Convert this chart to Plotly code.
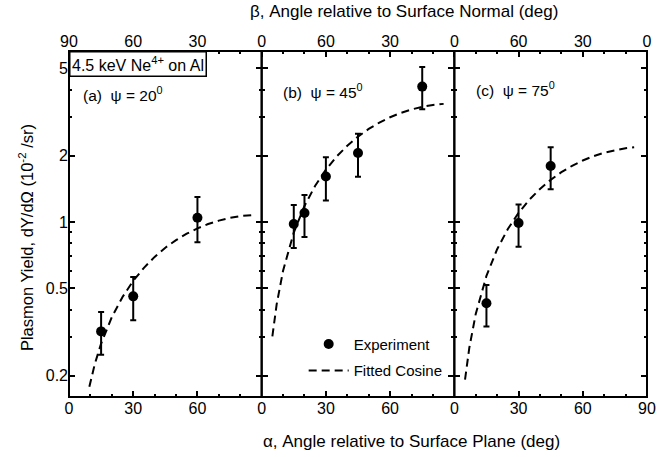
import plotly.graph_objects as go

# ---- data ----
alpha_a = [15, 30, 60]
yield_a = [0.318, 0.459, 1.045]
hi_a = [0.39, 0.562, 1.30]
lo_a = [0.249, 0.357, 0.81]

alpha_b = [15, 20, 30, 45, 75]
yield_b = [0.98, 1.10, 1.61, 2.06, 4.13]
hi_b = [1.195, 1.327, 1.97, 2.52, 5.07]
lo_b = [0.762, 0.855, 1.254, 1.607, 3.26]

alpha_c = [15, 30, 45]
yield_c = [0.427, 0.99, 1.797]
hi_c = [0.517, 1.20, 2.19]
lo_c = [0.335, 0.772, 1.41]

fit_alpha_a = [9.5, 12, 15, 20, 25, 30, 35, 40, 45, 50, 55, 60, 65, 70, 75, 80, 87]
fit_a = [0.178, 0.225, 0.280, 0.369, 0.456, 0.540, 0.619, 0.694, 0.764, 0.827,
         0.885, 0.935, 0.979, 1.015, 1.043, 1.064, 1.078]

fit_alpha_b = [5, 7, 10, 15, 20, 25, 30, 35, 40, 45, 50, 55, 60, 65, 70, 75, 80, 85]
fit_b = [0.302, 0.422, 0.601, 0.896, 1.183, 1.462, 1.730, 1.985, 2.224, 2.447,
         2.651, 2.834, 2.996, 3.136, 3.251, 3.342, 3.407, 3.447]

fit_alpha_c = [5, 7, 10, 15, 20, 25, 30, 35, 40, 45, 50, 55, 60, 65, 70, 75, 80, 84]
fit_c = [0.192, 0.268, 0.382, 0.569, 0.752, 0.930, 1.100, 1.262, 1.414, 1.556,
         1.685, 1.802, 1.905, 1.994, 2.067, 2.125, 2.167, 2.188]

panel_labels = ["(a)\u00a0\u00a0\u03c8 = 20<sup>0</sup>",
                "(b)\u00a0\u00a0\u03c8 = 45<sup>0</sup>",
                "(c)\u00a0\u00a0\u03c8 = 75<sup>0</sup>"]

y_tickvals = [0.2, 0.5, 1, 2, 5]
y_ticktext = ["0.2", "0.5", "1", "2", "5"]
y_minor = [0.3, 0.4, 0.6, 0.7, 0.8, 0.9, 3, 4]

bottom_ticks = [[0, 30, 60], [0, 30, 60], [0, 30, 60, 90]]
# top (beta) axis runs continuously across the three panels: 0..270 in alpha units
top_tickvals = [0, 30, 60, 90, 120, 150, 180, 210, 240, 270]
top_ticktext = ["90", "60", "30", "0", "60", "30", "0", "60", "30", "0"]

# ---- figure ----
FONT = "Liberation Sans, Arial, sans-serif"
fig = go.Figure()

panels = [
    (alpha_a, yield_a, hi_a, lo_a, fit_alpha_a, fit_a),
    (alpha_b, yield_b, hi_b, lo_b, fit_alpha_b, fit_b),
    (alpha_c, yield_c, hi_c, lo_c, fit_alpha_c, fit_c),
]

for i, (ax, yv, hi, lo, fx, fy) in enumerate(panels):
    xr = "x" if i == 0 else f"x{i+1}"
    yr = "y" if i == 0 else f"y{i+1}"
    fig.add_trace(go.Scatter(
        x=fx, y=fy, mode="lines", xaxis=xr, yaxis=yr,
        line=dict(color="black", width=2, dash="8px,5px"),
        name="Fitted Cosine", legendgroup="fit", showlegend=(i == 1),
        legendrank=2))
    fig.add_trace(go.Scatter(
        x=ax, y=yv, mode="markers", xaxis=xr, yaxis=yr,
        marker=dict(color="black", size=10),
        error_y=dict(type="data", symmetric=False,
                     array=[h - v for h, v in zip(hi, yv)],
                     arrayminus=[v - l for l, v in zip(lo, yv)],
                     color="black", thickness=2, width=3),
        name="Experiment", legendgroup="exp", showlegend=(i == 1),
        legendrank=1))

# invisible trace registering the continuous top (beta) axis
fig.add_trace(go.Scatter(x=top_tickvals, y=[1] * len(top_tickvals), mode="markers",
                         xaxis="x4", yaxis="y4", marker=dict(opacity=0),
                         showlegend=False, hoverinfo="skip"))

domains = [[0, 1/3], [1/3, 2/3], [2/3, 1]]
ylog = [-0.796, 0.778]
TICK = dict(ticks="inside", tickwidth=1.5, tickcolor="black")

layout = dict(
    width=672, height=457,
    margin=dict(l=69, r=25, t=51, b=60),
    paper_bgcolor="white", plot_bgcolor="rgba(0,0,0,0)",
    font=dict(family=FONT, size=15, color="black"),
    showlegend=True,
    legend=dict(x=0.406, y=0.2, xanchor="left", yanchor="top",
                bgcolor="rgba(0,0,0,0)", font=dict(size=15),
                tracegroupgap=4, itemwidth=40),
)

shapes = []
for i in range(3):
    xk = "xaxis" if i == 0 else f"xaxis{i+1}"
    yk = "yaxis" if i == 0 else f"yaxis{i+1}"
    xa = "x" if i == 0 else f"x{i+1}"
    ya = "y" if i == 0 else f"y{i+1}"
    layout[xk] = dict(
        domain=domains[i], range=[0, 90], anchor=ya, showline=False,
        ticklen=6, tickmode="array", tickvals=bottom_ticks[i],
        ticktext=[str(v) for v in bottom_ticks[i]],
        showgrid=False, zeroline=False,
        minor=dict(ticklen=3, dtick=10, tick0=0, showgrid=False, **TICK),
        tickfont=dict(size=16), fixedrange=True, **TICK)
    layout[yk] = dict(
        domain=[0, 1], type="log", range=ylog, anchor=xa,
        showline=False, mirror="ticks",
        ticklen=6, tickmode="array", tickvals=y_tickvals, ticktext=y_ticktext,
        showticklabels=(i == 0), showgrid=False, zeroline=False,
        minor=dict(ticklen=3, tickvals=y_minor, showgrid=False, **TICK),
        tickfont=dict(size=16), fixedrange=True, **TICK)
    shapes.append(dict(type="rect", xref=f"{xa} domain", yref=f"{ya} domain",
                       x0=0, x1=1, y0=0, y1=1, line=dict(color="black", width=2),
                       layer="above"))

layout["xaxis4"] = dict(
    domain=[0, 1], range=[0, 270], anchor="y4", side="top", showline=False,
    ticklen=6, tickmode="array", tickvals=top_tickvals, ticktext=top_ticktext,
    showgrid=False, zeroline=False,
    minor=dict(ticklen=3, dtick=10, tick0=0, showgrid=False, **TICK),
    tickfont=dict(size=16), fixedrange=True, **TICK)
layout["yaxis4"] = dict(domain=[0, 1], range=[0, 2], anchor="x4", visible=False,
                        fixedrange=True)
layout["shapes"] = shapes

annotations = [
    dict(text="\u03b2, Angle relative to Surface Normal (deg)", xref="paper", yref="paper",
         x=0.58, y=1.113, xanchor="center", yanchor="middle", showarrow=False,
         font=dict(size=17)),
    dict(text="\u03b1, Angle relative to Surface Plane (deg)", xref="paper", yref="paper",
         x=0.593, y=-0.13, xanchor="center", yanchor="middle", showarrow=False,
         font=dict(size=17)),
    dict(text="Plasmon Yield, dY/d\u03a9 (10<sup>-2</sup> /sr)", xref="paper", yref="paper",
         x=-0.074, y=0.46, xanchor="center", yanchor="middle", textangle=-90,
         showarrow=False, font=dict(size=16.5)),
    dict(text="4.5 keV Ne<sup>4+</sup> on Al", xref="x domain", yref="y domain",
         x=0, y=1, xanchor="left", yanchor="top", showarrow=False,
         bordercolor="black", borderwidth=1.5, borderpad=1.5, bgcolor="white",
         font=dict(size=16)),
]
label_y = [0.875, 0.885, 0.89]
for i in range(3):
    xr = "x domain" if i == 0 else f"x{i+1} domain"
    yr = "y domain" if i == 0 else f"y{i+1} domain"
    annotations.append(dict(text=panel_labels[i], xref=xr, yref=yr,
                            x=0.06 if i == 0 else 0.1, y=label_y[i],
                            xanchor="left", yanchor="middle", showarrow=False,
                            font=dict(size=15.5)))
layout["annotations"] = annotations

fig.update_layout(**layout)
fig.write_html("out.html", config={"displayModeBar": False})
